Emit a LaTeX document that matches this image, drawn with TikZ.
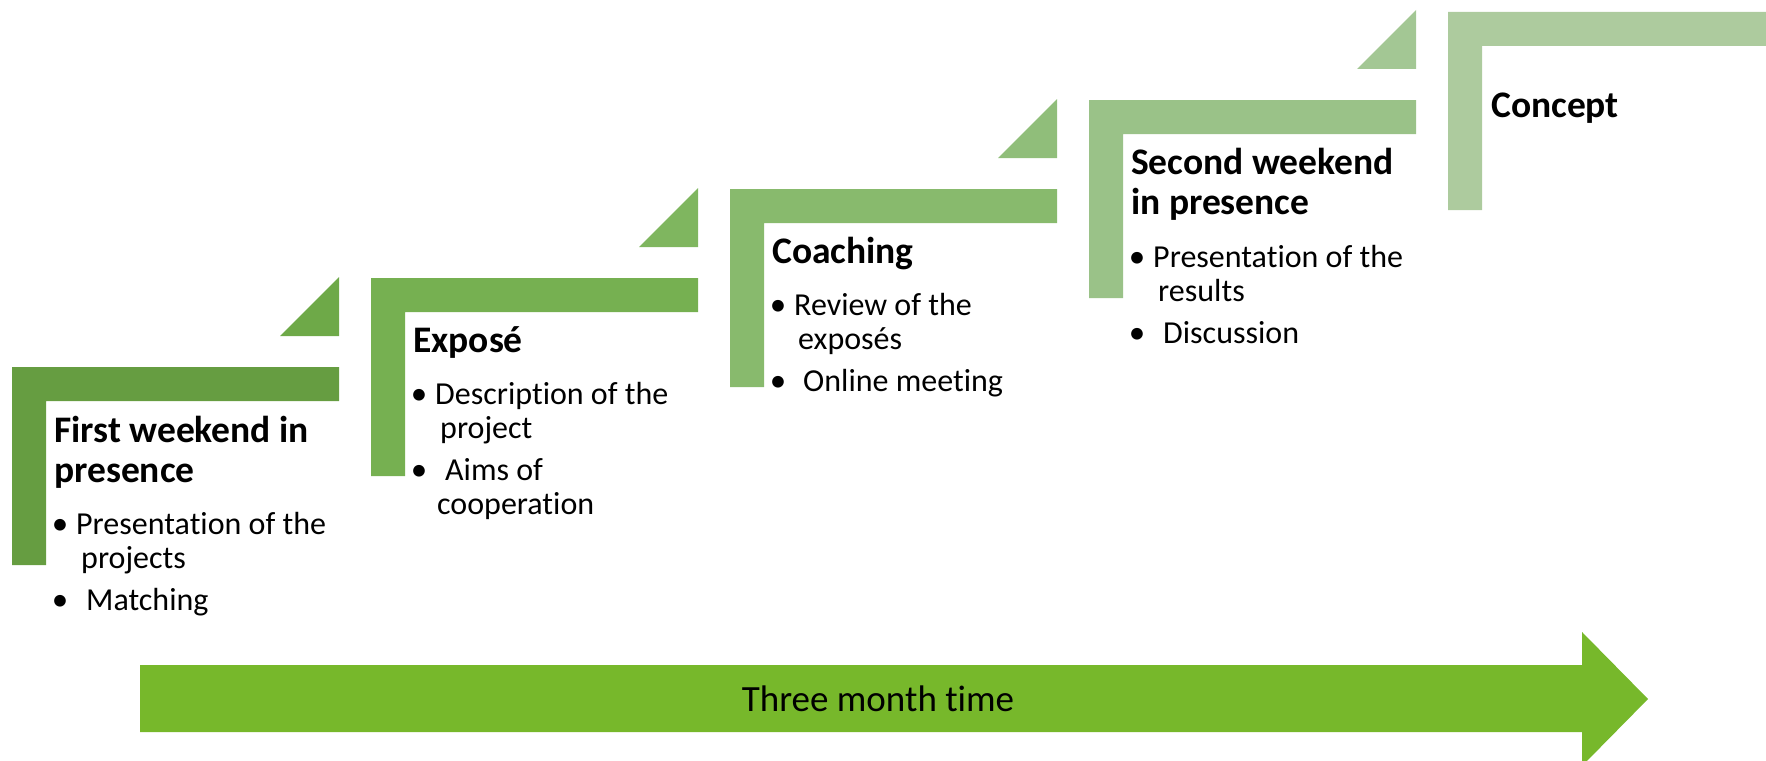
\documentclass[tikz,border=0pt]{standalone}
\usepackage{fontspec}
\setmainfont{Carlito}[RawFeature={-liga}]
\definecolor{gA}{HTML}{669D41}
\definecolor{tA}{HTML}{6EA948}
\definecolor{gB}{HTML}{76B051}
\definecolor{tB}{HTML}{7FB65F}
\definecolor{gC}{HTML}{88BA6D}
\definecolor{tC}{HTML}{90BE7A}
\definecolor{gD}{HTML}{9AC288}
\definecolor{tD}{HTML}{A3C794}
\definecolor{gE}{HTML}{ADCB9E}
\definecolor{arrowgreen}{HTML}{77B82B}
\tikzset{
  title/.style={anchor=base west, inner sep=0pt, font=\fontsize{37.5}{40}\selectfont\bfseries},
  body/.style={anchor=base west, inner sep=0pt, font=\fontsize{32}{34}\selectfont},
  dot/.style={anchor=base, inner sep=0pt, font=\fontsize{33}{34}\selectfont},
}
\begin{document}
\begin{tikzpicture}[x=1pt, y=-1pt]
\useasboundingbox (0,0) rectangle (1766,760);

% L-shaped steps and the small corner triangles
\fill[gA] (12,367) -- (339,367) -- (339,401) -- (46,401) -- (46,565) -- (12,565) -- cycle;
\fill[tA] (280,336) -- (339,336) -- (339,277) -- cycle;
\fill[gB] (371,278) -- (698,278) -- (698,312) -- (405,312) -- (405,476) -- (371,476) -- cycle;
\fill[tB] (639,247) -- (698,247) -- (698,188) -- cycle;
\fill[gC] (730,189) -- (1057,189) -- (1057,223) -- (764,223) -- (764,387) -- (730,387) -- cycle;
\fill[tC] (998,158) -- (1057,158) -- (1057,99) -- cycle;
\fill[gD] (1089,100) -- (1416,100) -- (1416,134) -- (1123,134) -- (1123,298) -- (1089,298) -- cycle;
\fill[tD] (1357,69) -- (1416,69) -- (1416,10) -- cycle;
\fill[gE] (1448,12) -- (1770,12) -- (1770,46) -- (1482,46) -- (1482,210) -- (1448,210) -- cycle;

% time arrow
\fill[arrowgreen] (140,665) -- (1582,665) -- (1582,632) -- (1648,699) -- (1582,766) -- (1582,732) -- (140,732) -- cycle;
\node[anchor=base, inner sep=0pt, font=\fontsize{37}{40}\selectfont] (time) at (878,711) {Three month time};

% step 1
\node[title] (s1a) at (54,442) {First weekend in};
\node[title] (s1b) at (54,482) {presence};
\node[dot] (s1d1) at (60,534) {•};
\node[body] (s1i1) at (76,534) {Presentation of the};
\node[body] (s1i1b) at (81,568) {projects};
\node[dot] (s1d2) at (60,610) {•};
\node[body] (s1i2) at (86,610) {Matching};

% step 2
\node[title] (s2a) at (413,352) {Exposé};
\node[dot] (s2d1) at (419,404) {•};
\node[body] (s2i1) at (435,404) {Description of the};
\node[body] (s2i1b) at (440,438) {project};
\node[dot] (s2d2) at (419,480) {•};
\node[body] (s2i2) at (445,480) {Aims of};
\node[body] (s2i2b) at (437,514) {cooperation};

% step 3
\node[title] (s3a) at (772,263) {Coaching};
\node[dot] (s3d1) at (778,315) {•};
\node[body] (s3i1) at (794,315) {Review of the};
\node[body] (s3i1b) at (798,349) {exposés};
\node[dot] (s3d2) at (778,391) {•};
\node[body] (s3i2) at (803,391) {Online meeting};

% step 4
\node[title] (s4a) at (1131,174) {Second weekend};
\node[title] (s4b) at (1131,214) {in presence};
\node[dot] (s4d1) at (1137,267) {•};
\node[body] (s4i1) at (1153,267) {Presentation of the};
\node[body] (s4i1b) at (1158,301) {results};
\node[dot] (s4d2) at (1137,343) {•};
\node[body] (s4i2) at (1163,343) {Discussion};

% step 5
\node[title] (s5a) at (1491,117) {Concept};
\end{tikzpicture}
\end{document}
